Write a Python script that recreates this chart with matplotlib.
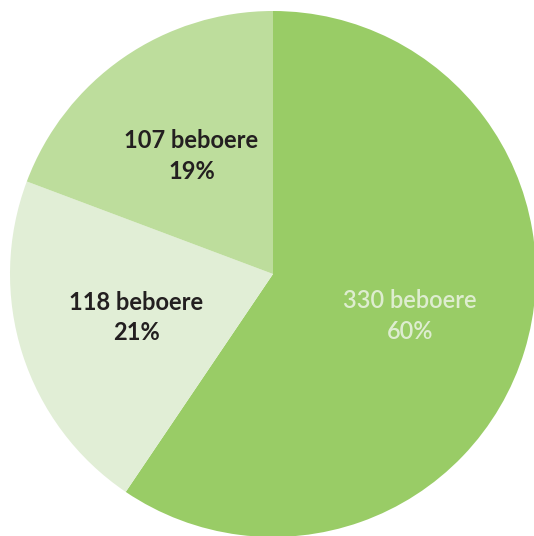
import matplotlib.pyplot as plt

counts = [330, 118, 107]
percents = [60, 21, 19]
colors = ["#99cc66", "#e1eed6", "#bddd9c"]
text_colors = ["#deedd0", "#231f20", "#231f20"]
weights = ["semibold", "bold", "bold"]

labels = [f"{c} beboere\n{p}%" for c, p in zip(counts, percents)]

W, H = 534, 536
cx, cy, r = 273, 274, 263

fig = plt.figure(figsize=(W / 100, H / 100), dpi=100)
ax = fig.add_axes([0, 0, 1, 1])
wedges, texts = ax.pie(counts, labels=labels, colors=colors, startangle=90,
                       counterclock=False, labeldistance=0.545,
                       wedgeprops=dict(linewidth=0))
for t, tc, w in zip(texts, text_colors, weights):
    t.set_ha("center")
    t.set_va("center")
    t.set_color(tc)
    t.set_fontfamily("Lato")
    t.set_fontweight(w)
    t.set_fontsize(17)
    t.set_linespacing(1.4)

ax.set_xlim(-cx / r, (W - cx) / r)
ax.set_ylim(-(H - cy) / r, cy / r)
ax.set_aspect("auto")
ax.axis("off")

fig.savefig("out.png", dpi=100)
